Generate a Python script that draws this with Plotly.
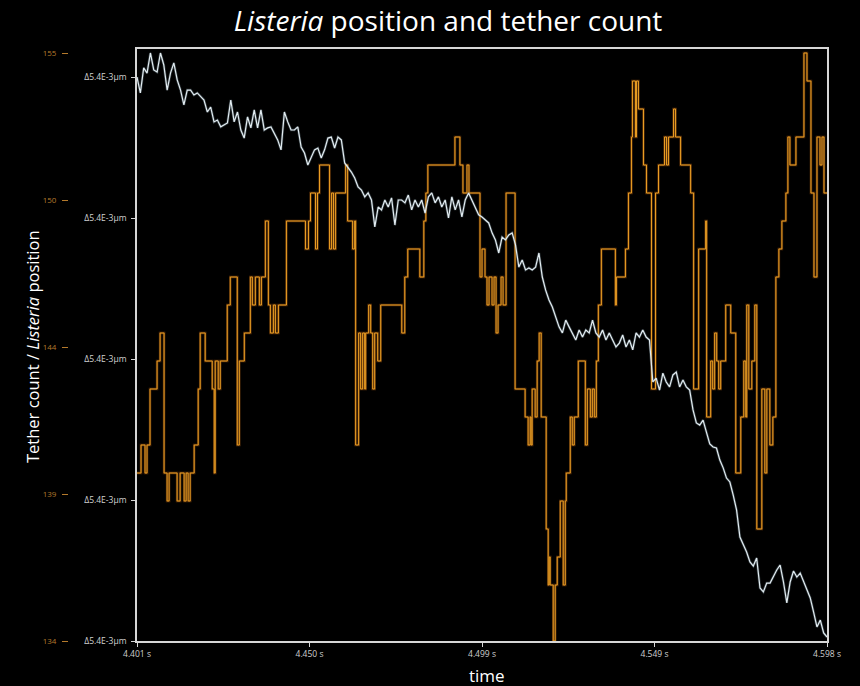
import numpy as np
import plotly.graph_objects as go

# ---- Listeria position (nm, relative), sampled at a fixed interval ----
T_START = 4.401
T_END = 4.598
pos_nm = [
    21.60, 20.99, 21.95, 21.75, 22.52, 21.87, 21.79, 22.52, 22.06, 21.10,
    21.75, 22.14, 21.49, 21.10, 20.53, 21.10, 21.10, 20.91, 20.99, 20.84,
    20.72, 20.26, 20.45, 19.88, 19.95, 19.69, 19.76, 19.84, 20.72, 19.88,
    20.26, 19.57, 19.26, 20.07, 19.65, 20.34, 19.65, 20.34, 19.57, 19.65,
    19.69, 19.46, 19.19, 18.81, 20.26, 19.88, 19.57, 19.57, 19.69, 18.92,
    18.69, 18.23, 18.50, 18.81, 18.88, 18.50, 18.81, 19.26, 19.30, 18.88,
    19.30, 19.19, 18.31, 18.15, 17.96, 17.73, 17.39, 17.27, 17.01, 17.16,
    16.89, 15.86, 16.62, 16.51, 16.89, 16.62, 16.97, 15.93, 16.89, 16.89,
    16.78, 17.08, 16.51, 16.89, 16.62, 16.89, 16.39, 17.01, 17.16, 16.78,
    17.01, 16.62, 16.89, 16.20, 17.01, 16.51, 16.89, 16.24, 16.89, 17.16,
    16.89, 16.62, 16.32, 16.24, 16.12, 16.01, 15.63, 15.36, 14.86, 15.47,
    15.36, 15.55, 15.63, 15.17, 14.32, 14.59, 14.21, 14.29, 14.21, 14.32,
    14.86, 13.94, 13.44, 13.06, 12.79, 12.41, 12.03, 11.80, 12.29, 12.03,
    11.80, 11.53, 11.91, 11.64, 11.91, 11.80, 12.29, 11.80, 11.64, 11.91,
    11.53, 11.80, 11.53, 11.26, 11.41, 11.72, 11.26, 11.53, 11.15, 11.80,
    11.64, 11.91, 11.64, 11.53, 9.92, 10.07, 9.61, 10.26, 9.92, 9.73,
    10.19, 10.30, 9.73, 10.00, 9.73, 9.61, 8.85, 8.35, 8.27, 8.46,
    8.00, 7.55, 7.43, 7.39, 6.93, 6.63, 6.24, 6.09, 5.59, 5.02,
    3.98, 3.68, 3.41, 3.03, 2.87, 3.18, 2.03, 1.88, 2.22, 2.22,
    2.49, 2.72, 2.91, 2.26, 1.46, 2.26, 2.68, 2.45, 2.60, 2.26,
    1.92, 1.65, 1.11, 0.54, 0.80, 0.31, 0.15,
]
sample_dt = (T_END - T_START) / (len(pos_nm) - 1)
pos_t = T_START + np.arange(len(pos_nm)) * sample_dt

# ---- Tether count: time of each change (s) and the new count ----
tether_t = [
    4.40100, 4.40215, 4.40329, 4.40386, 4.40472, 4.40673, 4.40759, 4.40873, 4.40959, 4.41016,
    4.41245, 4.41331, 4.41446, 4.41503, 4.41560, 4.41618, 4.41732, 4.41847, 4.41904, 4.42047,
    4.42248, 4.42305, 4.42333, 4.42419, 4.42477, 4.42677, 4.42763, 4.42963, 4.43021, 4.43164,
    4.43336, 4.43393, 4.43479, 4.43593, 4.43651, 4.43765, 4.43851, 4.43908, 4.43994, 4.44051,
    4.44137, 4.44366, 4.44910, 4.44996, 4.45054, 4.45197, 4.45254, 4.45311, 4.45598, 4.45655,
    4.45712, 4.45770, 4.46056, 4.46113, 4.46256, 4.46314, 4.46342, 4.46428, 4.46485, 4.46543,
    4.46600, 4.46629, 4.46714, 4.46772, 4.46829, 4.46886, 4.46972, 4.47058, 4.47659, 4.47745,
    4.47831, 4.48175, 4.48289, 4.48347, 4.48404, 4.49177, 4.49320, 4.49406, 4.49521, 4.49578,
    4.49893, 4.49950, 4.50036, 4.50093, 4.50151, 4.50236, 4.50294, 4.50351, 4.50408, 4.50494,
    4.50551, 4.50637, 4.50895, 4.51181, 4.51267, 4.51325, 4.51353, 4.51382, 4.51468, 4.51525,
    4.51582, 4.51640, 4.51783, 4.51840, 4.51869, 4.51897, 4.51983, 4.52040, 4.52098, 4.52184,
    4.52269, 4.52327, 4.52355, 4.52470, 4.52527, 4.52584, 4.52699, 4.52900, 4.52957, 4.53043,
    4.53100, 4.53157, 4.53214, 4.53272, 4.53358, 4.53758, 4.53787, 4.54045, 4.54131, 4.54217,
    4.54245, 4.54331, 4.54360, 4.54417, 4.54560, 4.54646, 4.54789, 4.54904, 4.54990, 4.55161,
    4.55219, 4.55276, 4.55419, 4.55476, 4.55620, 4.55906, 4.55992, 4.56135, 4.56335, 4.56364,
    4.56479, 4.56536, 4.56593, 4.56651, 4.56708, 4.56765, 4.56908, 4.57051, 4.57195, 4.57338,
    4.57424, 4.57481, 4.57509, 4.57567, 4.57653, 4.57739, 4.57796, 4.57939, 4.58025, 4.58082,
    4.58168, 4.58254, 4.58340, 4.58426, 4.58512, 4.58626, 4.58683, 4.58741, 4.58913, 4.59142,
    4.59228, 4.59342, 4.59428, 4.59514, 4.59600, 4.59657, 4.59714, 4.59800,
]
tether_n = [
    140, 141, 140, 141, 143, 144, 145, 140, 139, 140,
    139, 140, 139, 140, 139, 140, 141, 143, 145, 144,
    143, 140, 144, 143, 144, 146, 147, 141, 144, 145,
    147, 146, 147, 146, 147, 149, 146, 145, 146, 145,
    146, 149, 148, 149, 150, 148, 150, 151, 148, 150,
    148, 150, 151, 149, 148, 149, 141, 145, 143, 145,
    143, 145, 146, 145, 143, 145, 144, 146, 145, 147,
    148, 147, 149, 150, 151, 152, 151, 150, 151, 150,
    147, 148, 147, 146, 147, 146, 147, 145, 146, 147,
    146, 150, 143, 142, 141, 142, 141, 143, 142, 144,
    145, 142, 138, 136, 137, 136, 134, 136, 137, 139,
    136, 139, 140, 142, 141, 142, 144, 141, 143, 142,
    143, 142, 144, 146, 148, 146, 147, 148, 150, 152,
    154, 152, 154, 153, 151, 150, 143, 150, 151, 152,
    151, 152, 153, 152, 151, 150, 143, 148, 149, 142,
    144, 143, 145, 144, 143, 144, 146, 145, 140, 142,
    144, 142, 146, 143, 144, 146, 138, 143, 140, 143,
    141, 142, 147, 148, 149, 150, 152, 151, 152, 155,
    154, 150, 147, 152, 151, 152, 150, 150,
]
assert len(tether_t) == len(tether_n)

# ---- axis ticks ----
time_ticks = [4.401, 4.45025, 4.4995, 4.54875, 4.598]
time_labels = ["4.401 s", "4.450 s", "4.499 s", "4.549 s", "4.598 s"]
count_ticks = [134, 139.25, 144.5, 149.75, 155]
count_labels = ["134", "139", "144", "150", "155"]
pos_ticks = [0, 5.4, 10.8, 16.2, 21.6]
pos_labels = ["\u03945.4E-3\u00b5m"] * 5

ORANGE = "#eda024"
ORANGE_GLOW = "rgba(185,100,20,0.45)"
ORANGE_DIM = "#b57a2c"
WHITE_LINE = "#e2ecf1"
WHITE_GLOW = "rgba(150,175,190,0.3)"
FRAME = "#d6d6d6"
FONT = "Open Sans"

W, H = 860, 686
PLOT_L, PLOT_R, PLOT_T, PLOT_B = 137, 827, 49, 641
paper_w = PLOT_R          # margin l = 0
paper_h = PLOT_B - PLOT_T

fig = go.Figure()
# soft halo under each line, then the line itself
fig.add_trace(go.Scatter(
    x=tether_t, y=tether_n, mode="lines", yaxis="y",
    line=dict(color=ORANGE_GLOW, width=2.5, shape="hv"), hoverinfo="skip",
))
fig.add_trace(go.Scatter(
    x=tether_t, y=tether_n, mode="lines", yaxis="y",
    line=dict(color=ORANGE, width=1.0, shape="hv"), hoverinfo="skip",
))
fig.add_trace(go.Scatter(
    x=pos_t, y=pos_nm, mode="lines", yaxis="y2",
    line=dict(color=WHITE_GLOW, width=2.6), hoverinfo="skip",
))
fig.add_trace(go.Scatter(
    x=pos_t, y=pos_nm, mode="lines", yaxis="y2",
    line=dict(color=WHITE_LINE, width=1.2), hoverinfo="skip",
))

fig.update_layout(
    width=W, height=H,
    margin=dict(l=0, r=W - PLOT_R, t=PLOT_T, b=H - PLOT_B, pad=0),
    paper_bgcolor="black", plot_bgcolor="black",
    showlegend=False,
    font=dict(family=FONT, color="white"),
    title=dict(
        text="<i>Listeria</i> position and tether count",
        font=dict(family=FONT, size=28, color="white"),
        x=448 / W, y=1 - 21 / H, xref="container", yref="container",
        xanchor="center", yanchor="middle",
    ),
    xaxis=dict(
        domain=[PLOT_L / paper_w, 1], range=[T_START, T_END],
        tickvals=time_ticks, ticktext=time_labels,
        ticks="outside", ticklen=4, tickcolor=FRAME, tickwidth=1,
        tickfont=dict(size=8.5, color="#cfcfcf"),
        showline=True, linecolor=FRAME, linewidth=1.5, mirror=True,
        showgrid=False, zeroline=False, automargin=False,
    ),
    yaxis=dict(
        anchor="free", position=68 / paper_w,
        range=[134, 134 + (PLOT_B - PLOT_T) / 28.0],
        tickvals=count_ticks, ticktext=count_labels,
        ticks="outside", ticklen=6, tickcolor=ORANGE_DIM, tickwidth=1,
        tickfont=dict(size=8, color=ORANGE_DIM), ticklabelstandoff=4,
        showline=False, showgrid=False, zeroline=False, automargin=False,
    ),
    yaxis2=dict(
        overlaying="y", anchor="x", side="left",
        range=[0, (PLOT_B - PLOT_T) * 5.4 / 141],
        tickvals=pos_ticks, ticktext=pos_labels,
        ticks="outside", ticklen=4, tickcolor=FRAME, tickwidth=1,
        tickfont=dict(size=8.5, color="#d0d0d0"), ticklabelstandoff=3,
        showline=True, linecolor=FRAME, linewidth=1.5, mirror=True,
        showgrid=False, zeroline=False, automargin=False,
    ),
    annotations=[
        dict(text="Tether count / <i>Listeria</i> position",
             x=32 / paper_w, y=(PLOT_B - 347) / paper_h,
             xref="paper", yref="paper", textangle=-90,
             xanchor="center", yanchor="middle", showarrow=False,
             font=dict(family=FONT, size=16.5, color="white")),
        dict(text="time", x=487 / paper_w, y=(PLOT_B - 675) / paper_h,
             xref="paper", yref="paper", xanchor="center", yanchor="middle",
             showarrow=False, font=dict(family=FONT, size=17, color="white")),
    ],
)

fig.write_html("out.html")
